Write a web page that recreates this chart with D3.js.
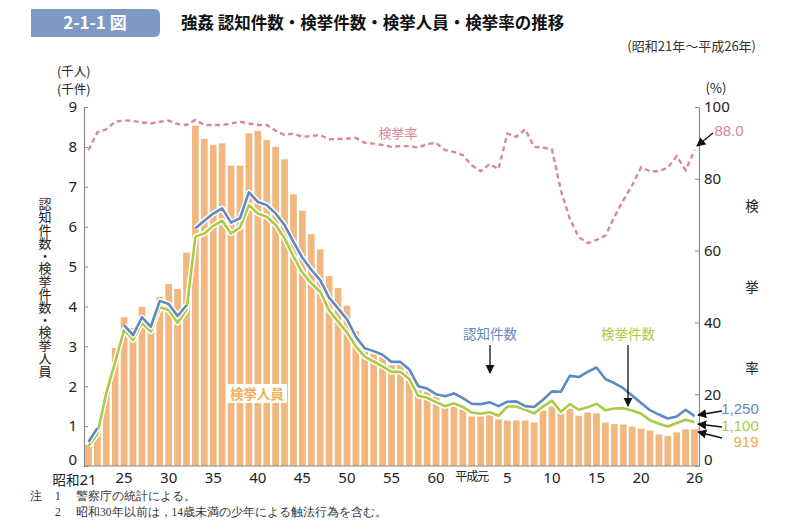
<!DOCTYPE html>
<html><head><meta charset="utf-8">
<script src="https://cdn.jsdelivr.net/npm/d3@7/dist/d3.min.js"></script>
<style>
body{margin:0;background:#fff;}
svg{font-family:"Noto Sans CJK JP","Noto Sans",sans-serif;}
</style></head>
<body><svg id="c" width="799" height="531"></svg>
<script>
// ---- data ----
const yearLabels = {0:"昭和21",4:"25",9:"30",14:"35",19:"40",24:"45",29:"50",34:"55",39:"60",43:"平成元",47:"5",52:"10",57:"15",62:"20",68:"26"};
const nYears = 69;
// 検挙人員 (千人)
const arrested = [0.53,0.83,1.85,2.96,3.73,3.46,3.99,3.41,4.24,4.56,4.44,5.35,8.53,8.20,8.05,8.09,7.53,7.53,8.34,8.40,8.17,8.00,7.69,6.81,6.40,5.81,5.43,4.76,4.46,4.02,3.38,3.02,2.82,2.74,2.53,2.57,2.39,1.90,1.86,1.74,1.53,1.55,1.42,1.24,1.24,1.28,1.17,1.14,1.14,1.14,1.09,1.39,1.49,1.32,1.44,1.26,1.34,1.32,1.09,1.05,1.04,0.99,0.94,0.89,0.79,0.75,0.84,0.92,0.919];
// 認知件数 (千件)
const recognized = [0.60,0.95,null,null,3.53,3.28,3.73,3.49,4.14,4.06,3.76,4.03,5.96,6.15,6.33,6.46,6.10,6.21,6.86,6.62,6.54,6.33,6.04,5.62,5.22,4.92,4.66,4.22,3.95,3.68,3.24,2.95,2.88,2.79,2.61,2.61,2.42,2.00,1.94,1.80,1.75,1.82,1.70,1.56,1.55,1.60,1.50,1.61,1.62,1.50,1.48,1.66,1.87,1.86,2.26,2.23,2.36,2.47,2.18,2.08,1.95,1.77,1.58,1.40,1.29,1.19,1.24,1.41,1.25];
const recognizedBreaks = [12];
// 検挙件数 (千件)
const cleared = [0.50,0.80,1.83,2.61,3.41,3.16,3.59,3.37,3.98,3.91,3.59,3.91,5.75,5.83,6.02,6.15,5.83,5.98,6.54,6.33,6.25,6.04,5.71,5.25,4.85,4.58,4.37,3.90,3.62,3.35,3.00,2.74,2.62,2.50,2.36,2.36,2.18,1.76,1.71,1.60,1.50,1.57,1.48,1.34,1.31,1.35,1.26,1.49,1.49,1.41,1.32,1.49,1.64,1.36,1.55,1.41,1.47,1.56,1.40,1.44,1.45,1.39,1.31,1.15,1.06,0.99,1.08,1.16,1.10];
// 検挙率 (%)
const rate = [88.0,92.9,93.8,95.9,96.3,96.1,95.7,95.4,95.9,96.2,95.3,95.0,96.4,95.0,95.0,95.0,95.4,95.9,95.4,95.0,95.0,93.4,92.2,92.6,91.7,91.9,92.2,91.0,91.1,91.2,91.4,90.0,89.8,89.4,88.9,89.1,89.1,88.7,89.7,90.0,88.0,87.5,86.6,83.8,82.1,84.1,82.7,92.6,91.7,93.8,88.9,88.7,88.2,76.8,68.9,63.8,62.1,63.0,64.2,69.4,74.0,78.2,83.2,82.1,82.1,83.1,86.3,82.4,88.0];
const leftTicks = [0,1,2,3,4,5,6,7,8,9];
const rightTicks = [0,20,40,60,80,100];
const endLabels = ["1,250","1,100","919","88.0"];

// ---- colours ----
const C = {bar:"#F2B77E", blue:"#5E8AC4", green:"#A9CB45", pink:"#D98797", axis:"#8a8a8a", text:"#222"};

const svg = d3.select("#c");
const x = d3.scaleBand().domain(d3.range(nYears)).range([84,699]).paddingInner(0.25).paddingOuter(0.125);
const yL = d3.scaleLinear().domain([0,9]).range([466,107]);
const yR = d3.scaleLinear().domain([0,100]).range([466,107]);
const cx = i => x(i) + x.bandwidth()/2;

// defs
const defs = svg.append("defs");
defs.append("marker").attr("id","ah").attr("viewBox","0 0 10 10").attr("refX",9).attr("refY",5)
  .attr("markerWidth",7).attr("markerHeight",7).attr("orient","auto-start-reverse")
  .append("path").attr("d","M0,0L10,5L0,10z").attr("fill","#111");

// header
svg.append("path").attr("d","M31,9 H154 Q160,9 160,15 V31 Q160,37 154,37 H31 Z").attr("fill","#7E9AC2");
svg.append("text").attr("x",95).attr("y",29).attr("text-anchor","middle").attr("fill","#fff")
  .attr("font-size",17).attr("font-weight",700).text("2-1-1 図");
svg.append("text").attr("x",181).attr("y",29).attr("font-size",16.5).attr("font-weight",700).attr("fill","#111")
  .text("強姦 認知件数・検挙件数・検挙人員・検挙率の推移");
svg.append("text").attr("x",756).attr("y",51).attr("text-anchor","end").attr("font-size",13).attr("fill","#333")
  .text("(昭和21年～平成26年)");
svg.append("text").attr("x",57).attr("y",75.5).attr("font-size",12.5).attr("fill",C.text).text("(千人)");
svg.append("text").attr("x",57).attr("y",93.5).attr("font-size",12.5).attr("fill",C.text).text("(千件)");
svg.append("text").attr("x",716).attr("y",93).attr("text-anchor","middle").attr("font-size",13).attr("fill",C.text).text("(%)");

// bars
svg.append("g").selectAll("rect").data(arrested).join("rect")
  .attr("x",(d,i)=>x(i)).attr("width",x.bandwidth())
  .attr("y",d=>yL(d)).attr("height",d=>yL(0)-yL(d)).attr("fill",C.bar);

// axes
const gl = svg.append("g").attr("transform","translate(84,0)")
  .call(d3.axisLeft(yL).tickValues(leftTicks).tickFormat(d3.format("d")).tickSizeInner(-4).tickSizeOuter(0).tickPadding(7));
const gr = svg.append("g").attr("transform","translate(699,0)")
  .call(d3.axisRight(yR).tickValues(rightTicks).tickFormat(d3.format("d")).tickSizeInner(-4).tickSizeOuter(0).tickPadding(5));
[gl,gr].forEach(g=>{
  g.select(".domain").attr("stroke",C.axis).attr("stroke-width",1.2);
  g.selectAll(".tick line").attr("stroke",C.axis);
  g.selectAll(".tick text").attr("font-size",15).attr("fill",C.text).attr("font-family","'Noto Sans',sans-serif");
});
gl.selectAll(".tick text").filter(d=>d===0).attr("dy","-0.1em");
gr.selectAll(".tick text").filter(d=>d===0).attr("dy","-0.1em");
const gx = svg.append("g").attr("transform","translate(0,466)")
  .call(d3.axisBottom(x).tickValues(Object.keys(yearLabels).map(Number)).tickFormat(i=>yearLabels[i]).tickSize(0).tickPadding(6));
gx.select(".domain").attr("stroke",C.axis).attr("stroke-width",1.2).attr("d","M84,0H699");
gx.selectAll(".tick text").attr("font-size",d=>d===43?12:15).attr("fill",C.text)
  .attr("font-family","'Noto Sans',sans-serif").attr("letter-spacing",d=>d===43?"-1":null);
gx.selectAll(".tick text").filter(d=>d===43).attr("font-family","'Noto Sans CJK JP',sans-serif");
// 昭和21: shift so digits centre on tick
gx.selectAll(".tick text").filter(d=>d===0).text(null).attr("text-anchor","end").attr("dx","0.55em").attr("dy","0.86em")
  .call(t=>{t.append("tspan").attr("font-size",13.5).attr("font-family","'Noto Sans CJK JP',sans-serif").text("昭和");t.append("tspan").text("21");});

// lines
function segments(vals, breaks){
  const segs=[]; let cur=[];
  vals.forEach((v,i)=>{
    if(v==null || breaks.includes(i)){ if(cur.length) segs.push(cur); cur=[]; }
    if(v!=null) cur.push([i,v]);
  });
  if(cur.length) segs.push(cur);
  return segs;
}
const lineL = d3.line().x(d=>cx(d[0])).y(d=>yL(d[1]));
function drawSeries(vals, breaks, color){
  const segs = segments(vals, breaks);
  const g = svg.append("g").attr("fill","none").attr("stroke-linejoin","round");
  g.selectAll(".h").data(segs).join("path").attr("d",lineL).attr("stroke","#fff").attr("stroke-width",5.5);
  g.selectAll(".l").data(segs).join("path").attr("d",lineL).attr("stroke",color).attr("stroke-width",2.6);
}
drawSeries(cleared, [], C.green);
drawSeries(recognized, recognizedBreaks, C.blue);

const lineR = d3.line().x((d,i)=>cx(i)).y(d=>yR(d));
svg.append("path").datum(rate).attr("d",lineR).attr("fill","none").attr("stroke",C.pink)
  .attr("stroke-width",2.4).attr("stroke-dasharray","5,3.5");

// series labels
svg.append("text").attr("x",398).attr("y",138).attr("text-anchor","middle").attr("font-size",13).attr("fill",C.pink).text("検挙率");
svg.append("text").attr("x",490).attr("y",339).attr("text-anchor","middle").attr("font-size",13.5).attr("fill",C.blue).text("認知件数");
svg.append("line").attr("x1",490).attr("y1",345).attr("x2",490).attr("y2",373).attr("stroke","#111").attr("stroke-width",1.3).attr("marker-end","url(#ah)");
svg.append("text").attr("x",628).attr("y",339).attr("text-anchor","middle").attr("font-size",13.5).attr("fill",C.green).text("検挙件数");
svg.append("line").attr("x1",628).attr("y1",345).attr("x2",628).attr("y2",406).attr("stroke","#111").attr("stroke-width",1.3).attr("marker-end","url(#ah)");
svg.append("rect").attr("x",227).attr("y",384).attr("width",60).attr("height",19).attr("fill","#fff");
svg.append("text").attr("x",257).attr("y",399).attr("text-anchor","middle").attr("font-size",13.5).attr("font-weight",700).attr("fill","#F0B25E").text("検挙人員");

// end labels
const endY = [409,425.5,442,131];
const endCol = [C.blue,C.green,"#EFA94E",C.pink];
const endX = [740,740,746,729];
endLabels.forEach((t,k)=>{
  svg.append("text").attr("x",endX[k]).attr("y",endY[k]+5).attr("text-anchor","middle").attr("font-size",15)
    .attr("font-family","'Liberation Sans',sans-serif").attr("fill",endCol[k]).text(t);
});
const arrows = [[722,411,698,415],[722,427,698,424],[722,438,698,432],[713,133,697,146]];
arrows.forEach(a=>svg.append("line").attr("x1",a[0]).attr("y1",a[1]).attr("x2",a[2]).attr("y2",a[3])
  .attr("stroke","#111").attr("stroke-width",1.3).attr("marker-end","url(#ah)"));

// axis titles
svg.append("text").attr("x",45).attr("y",198).attr("font-size",13).attr("fill",C.text)
  .style("writing-mode","vertical-rl").attr("letter-spacing","-0.2")
  .text("認知件数・検挙件数・検挙人員");
const rightTitle = ["検","挙","率"];
svg.append("g").selectAll("text").data(rightTitle).join("text")
  .attr("x",752).attr("y",(d,i)=>[211,292,373][i]).attr("text-anchor","middle").attr("font-size",13.5).attr("fill",C.text).text(d=>d);

// notes
const notes = [["注","1","警察庁の統計による。"],["","2","昭和30年以前は，14歳未満の少年による触法行為を含む。"]];
notes.forEach((n,k)=>{
  const yy = 500 + k*16;
  const t = svg.append("text").attr("y",yy).attr("font-size",11.5).attr("fill","#333").attr("font-family","serif");
  t.append("tspan").attr("x",30).text(n[0]);
  t.append("tspan").attr("x",55).text(n[1]);
  t.append("tspan").attr("x",76).text(n[2]);
});
</script></body></html>
